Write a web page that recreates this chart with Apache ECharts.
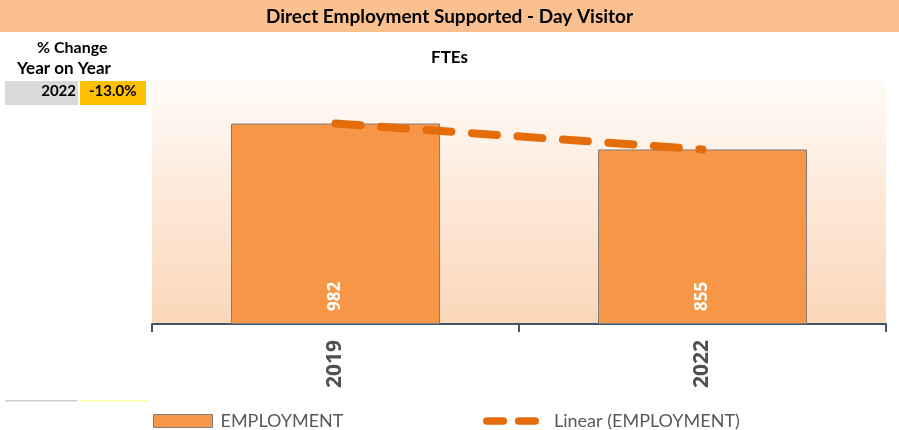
<!DOCTYPE html>
<html>
<head>
<meta charset="utf-8">
<script src="https://cdn.jsdelivr.net/npm/echarts@6/dist/echarts.min.js"></script>
<style>
  html, body { margin: 0; padding: 0; background: #ffffff; }
  #chart { width: 899px; height: 430px; }
</style>
</head>
<body>
<div id="chart"></div>
<script>
// Chart data
const categories = ['2019', '2022'];
const employment = [982, 855];
const changeYear = '2022';
const changeText = '-13.0%';
const yTicks = [0, 1200];

const titleText = 'Direct Employment Supported - Day Visitor';
const subTitle = 'FTEs';
const seriesName = 'EMPLOYMENT';
const trendName = 'Linear (EMPLOYMENT)';

// Least-squares linear trend over the category positions
function linearTrend(values) {
  const n = values.length;
  const xs = values.map((_, i) => i + 1);
  const mx = xs.reduce((a, b) => a + b, 0) / n;
  const my = values.reduce((a, b) => a + b, 0) / n;
  let num = 0, den = 0;
  for (let i = 0; i < n; i++) {
    num += (xs[i] - mx) * (values[i] - my);
    den += (xs[i] - mx) * (xs[i] - mx);
  }
  const slope = den ? num / den : 0;
  const icpt = my - slope * mx;
  return xs.map(x => icpt + slope * x);
}
const trend = linearTrend(employment);

const FONT = "Lato, 'Liberation Sans', sans-serif";
const NUM_FONT = "'Open Sans', 'DejaVu Sans', sans-serif";
const TEXT_GREY = '#595959';
const TREND_COLOR = '#E46C0A';

// legend glyph: two rounded dashes
const dashIcon = 'path://M4,0L21,0A4,4,0,0,1,21,8L4,8A4,4,0,0,1,4,0Z' +
                 'M37,0L54,0A4,4,0,0,1,54,8L37,8A4,4,0,0,1,37,0Z';

const chart = echarts.init(document.getElementById('chart'), null, { renderer: 'canvas' });

chart.setOption({
  backgroundColor: '#ffffff',
  animation: false,
  textStyle: { fontFamily: FONT },
  graphic: [
    // title band
    { type: 'rect', left: 0, top: 0, shape: { width: 899, height: 32 }, style: { fill: '#FAC090' }, z: 0 },
    { type: 'text', left: 'center', top: 7,
      style: { text: titleText, font: "bold 19px " + FONT, fill: '#000000' } },
    // year-on-year change panel
    { type: 'text', left: 37, top: 40,
      style: { text: '% Change', font: "bold 16px " + FONT, fill: '#000000' } },
    { type: 'text', left: 17, top: 60,
      style: { text: 'Year on Year', font: "bold 17px " + FONT, fill: '#000000' } },
    { type: 'rect', left: 5, top: 81, shape: { width: 73, height: 24 }, style: { fill: '#D9D9D9' } },
    { type: 'rect', left: 80, top: 81, shape: { width: 66, height: 24 }, style: { fill: '#FFC000' } },
    { type: 'text', right: 899 - 76, top: 84,
      style: { text: changeYear, font: "bold 15px " + FONT, fill: '#000000' } },
    { type: 'text', left: 89, top: 84,
      style: { text: changeText, font: "bold 15px " + FONT, fill: '#000000' } },
    { type: 'rect', left: 5, top: 400, shape: { width: 72, height: 1.5 }, style: { fill: '#D0D0D0' } },
    { type: 'rect', left: 80, top: 400, shape: { width: 68, height: 1.5 }, style: { fill: '#FFFFA8' } },
    // chart subtitle
    { type: 'text', left: 'center', top: 49,
      style: { text: subTitle, font: "bold 17px " + FONT, fill: '#000000' } }
  ],
  legend: [
    {
      data: [{ name: seriesName, icon: 'rect' }],
      left: 148, top: 407,
      itemWidth: 59, itemHeight: 13,
      itemStyle: { color: '#F79646', borderColor: '#7F7F7F', borderWidth: 1 },
      textStyle: { fontFamily: FONT, fontSize: 18, color: TEXT_GREY, padding: [0, 0, 0, 3] },
      selectedMode: false
    },
    {
      data: [{ name: trendName, icon: dashIcon }],
      left: 478, top: 407,
      itemWidth: 56, itemHeight: 8,
      itemStyle: { color: TREND_COLOR, borderWidth: 0 },
      lineStyle: { width: 0 },
      textStyle: { fontFamily: FONT, fontSize: 18, color: TEXT_GREY, padding: [0, 0, 0, 10] },
      selectedMode: false
    }
  ],
  grid: {
    left: 152, right: 13, top: 79, bottom: 106,
    show: true, borderWidth: 0,
    backgroundColor: new echarts.graphic.LinearGradient(0, 0, 0, 1, [
      { offset: 0, color: '#FFFBF8' },
      { offset: 1, color: '#FBD6B8' }
    ])
  },
  xAxis: {
    type: 'category',
    data: categories,
    boundaryGap: true,
    axisLine: { show: true, lineStyle: { color: '#44546A', width: 2 } },
    axisTick: { show: true, length: 8, lineStyle: { color: '#44546A', width: 2 } },
    axisLabel: {
      rotate: 90, margin: 16,
      fontFamily: NUM_FONT, fontSize: 21, fontWeight: 'bold', color: '#505050'
    }
  },
  yAxis: {
    type: 'value',
    min: yTicks[0], max: yTicks[1],
    show: false,
    splitLine: { show: false }
  },
  series: [
    {
      name: seriesName,
      type: 'bar',
      data: employment,
      barWidth: 209,
      itemStyle: { color: '#F79646', borderColor: '#7F7F7F', borderWidth: 1 },
      label: {
        show: true,
        position: 'insideBottom',
        rotate: 90,
        align: 'left',
        verticalAlign: 'middle',
        distance: 13,
        fontFamily: NUM_FONT, fontSize: 17, fontWeight: 'bold', color: '#ffffff'
      },
      z: 2
    },
    {
      name: trendName,
      type: 'line',
      data: trend,
      symbol: 'none',
      showSymbol: false,
      itemStyle: { color: TREND_COLOR },
      lineStyle: { color: TREND_COLOR, width: 8, type: [25, 20.6], cap: 'round' },
      z: 3
    }
  ]
});
</script>
</body>
</html>
